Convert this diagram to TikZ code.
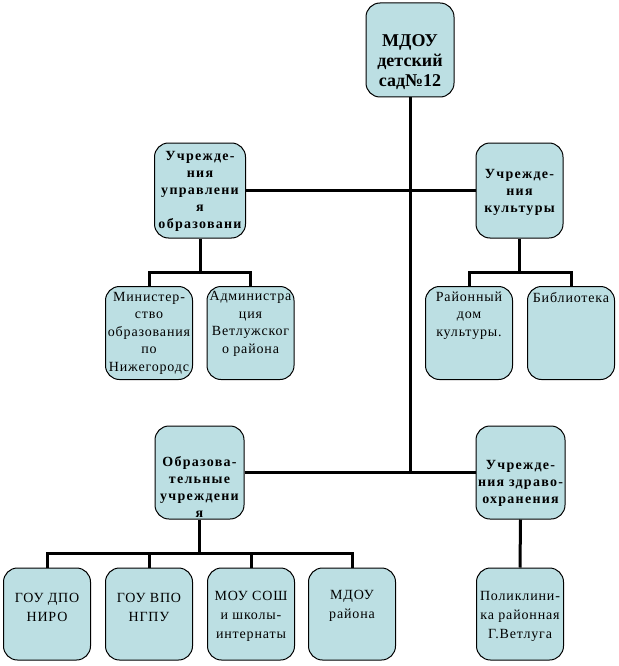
\documentclass[tikz,border=0pt]{standalone}
\usepackage{fontspec}
\setmainfont{Liberation Serif}
\newfontfamily\regspaced[LetterSpace=6]{Liberation Serif}
\newfontfamily\boldspaced[LetterSpace=9]{Liberation Serif}
\definecolor{boxfill}{RGB}{188,223,227}
\begin{document}
\begin{tikzpicture}[x=1pt,y=-1pt,
  box/.style={draw=black,line width=1pt,fill=boxfill,rounded corners=14pt,inner sep=0pt,minimum width=87pt,minimum height=93pt},
  conn/.style={draw=black,line width=3pt,line join=miter},
  bigtxt/.style={align=center,inner sep=0pt,font=\fontsize{18}{20}\selectfont\bfseries},
  midtxt/.style={align=center,inner sep=0pt,font=\boldspaced\fontsize{14}{17}\selectfont\bfseries},
  leaftxt/.style={align=center,inner sep=0pt,font=\regspaced\fontsize{14}{17.5}\selectfont},
  lowtxt/.style={align=center,inner sep=0pt,font=\regspaced\fontsize{14}{19}\selectfont}]
\useasboundingbox (0,0) rectangle (618,666);
% boxes
\node[box,minimum width=88pt,minimum height=94pt] (top) at (410,50) {};
\node[box,minimum width=91pt,minimum height=95pt] (uo) at (200,190.5) {};
\node[box,minimum height=95pt] (uk) at (519.5,190.5) {};
\node[box,minimum width=89pt] (ou) at (199.5,472.5) {};
\node[box,minimum width=89pt] (uz) at (520.5,472.5) {};
\node[box] (min) at (149,333) {};
\node[box] (adm) at (250.5,333) {};
\node[box] (rdk) at (469,333) {};
\node[box] (bib) at (571,333) {};
\node[box,minimum height=92pt] (gou1) at (47,614) {};
\node[box,minimum height=92pt] (gou2) at (149,614) {};
\node[box,minimum height=92pt] (mou) at (251,614) {};
\node[box,minimum height=92pt] (mdou) at (352,614) {};
\node[box,minimum height=92pt] (pol) at (520,614) {};
% texts
\node[bigtxt] (topT) at (410,62) {МДОУ\\детский\\сад№12};
\node[midtxt] (uoT) at (200,191.5) {Учрежде-\\ния\\управлени\\я\\образовани};
\node[midtxt] (ukT) at (519.5,192) {Учрежде-\\ния\\культуры};
\node[midtxt] (ouT) at (199.5,487) {Образова-\\тельные\\учреждени\\я};
\node[midtxt] (uzT) at (520.5,483) {Учрежде-\\ния здраво-\\охранения};
\node[leaftxt] (minT) at (149,333) {Министер-\\ство\\образования\\по\\Нижегородс};
\node[leaftxt] (admT) at (250.5,324) {Администра\\ция\\Ветлужског\\о района};
\node[leaftxt] (rdkT) at (469,315.5) {Районный\\дом\\культуры.};
\node[leaftxt] (bibT) at (571,298) {Библиотека};
\node[lowtxt] (gou1T) at (47,607) {ГОУ ДПО\\НИРО};
\node[lowtxt] (gou2T) at (149,607) {ГОУ ВПО\\НГПУ};
\node[lowtxt] (mouT) at (251,616) {МОУ СОШ\\и школы-\\интернаты};
\node[lowtxt] (mdouT) at (352,606) {МДОУ\\района};
\node[lowtxt] (polT) at (520,616) {Поликлини-\\ка районная\\Г.Ветлуга};
% junction coordinates
\coordinate (j2) at (410,472.5);
\coordinate (b1) at (200,272);
\coordinate (b2) at (519.5,272);
\coordinate (b3) at (199.5,553);
% connectors
\draw[conn] (top.south) -- (j2);
\draw[conn] (uo.east) -- (uk.west);
\draw[conn] (ou.east) -- (uz.west);
\draw[conn] (uo.south) -- (b1);
\draw[conn] (min.north) |- (b1) -| (adm.north);
\draw[conn] (uk.south) -- (b2);
\draw[conn] (rdk.north) |- (b2) -| (bib.north);
\draw[conn] (ou.south) -- (b3);
\draw[conn] (gou1.north) |- (b3) -| (mdou.north);
\draw[conn] (gou2.north) -- (gou2.north |- b3);
\draw[conn] (mou.north) -- (mou.north |- b3);
\draw[conn] (uz.south) -- (pol.north);
\end{tikzpicture}
\end{document}
